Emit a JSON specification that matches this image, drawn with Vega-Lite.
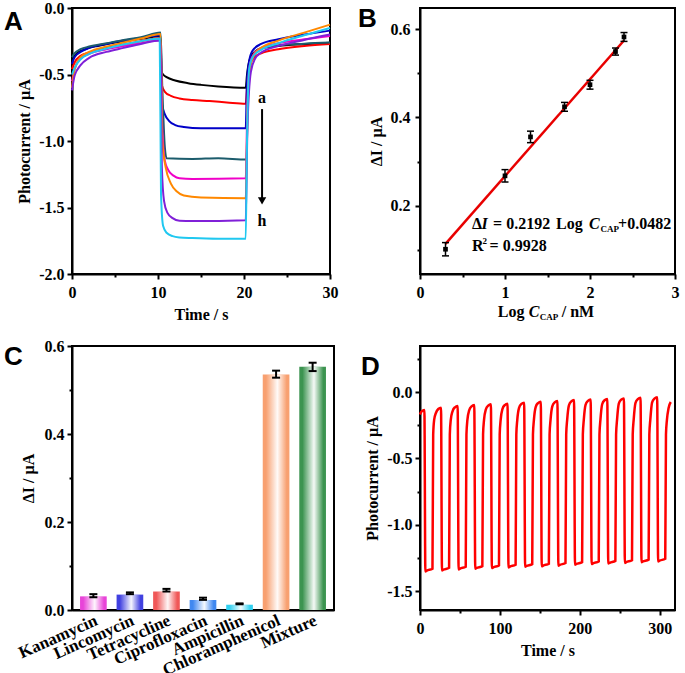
{
"$schema":"https://vega.github.io/schema/vega-lite/v6.json",
"background":"white",
"padding":{"left":3,"top":-1,"right":5,"bottom":0},
"columns":2,
"bounds":"flush",
"align":"all",
"spacing":{"row":72,"column":86},
"resolve":{"scale":{"color":"independent"}},
"config":{
 "view":{"stroke":"black","strokeWidth":2},
 "axis":{"domainColor":"black","domainWidth":2,"tickColor":"black","tickWidth":2,"grid":false,"labelFont":"Liberation Serif","labelFontWeight":"bold","labelFontSize":16,"labelColor":"black","titleFont":"Liberation Serif","titleFontWeight":"bold","titleFontSize":16,"titleColor":"black","labelFlush":false,"labelOverlap":false,"labelBound":false},
 "title":{"font":"Liberation Sans","fontSize":26,"fontWeight":"bold","color":"black","anchor":"start","frame":"group","offset":0,"baseline":"alphabetic"}
},
"concat":[
{
"width":258,"height":266,
"title":{"text":"A","dx":-68,"dy":39},
"layer":[
 {"data":{"values":[
{"s":"a","t":0,"v":-0.40},{"s":"a","t":0.2,"v":-0.37},{"s":"a","t":0.5,"v":-0.345},{"s":"a","t":1,"v":-0.325},{"s":"a","t":2,"v":-0.30},{"s":"a","t":3,"v":-0.285},{"s":"a","t":5,"v":-0.26},{"s":"a","t":7,"v":-0.24},{"s":"a","t":9,"v":-0.222},{"s":"a","t":10.25,"v":-0.21},{"s":"a","t":10.35,"v":-0.47},{"s":"a","t":10.6,"v":-0.5},{"s":"a","t":11,"v":-0.52},{"s":"a","t":12,"v":-0.545},{"s":"a","t":13.5,"v":-0.565},{"s":"a","t":15,"v":-0.578},{"s":"a","t":17,"v":-0.59},{"s":"a","t":20.2,"v":-0.60},{"s":"a","t":20.35,"v":-0.50},{"s":"a","t":20.6,"v":-0.40},{"s":"a","t":21,"v":-0.345},{"s":"a","t":22,"v":-0.305},{"s":"a","t":24,"v":-0.285},{"s":"a","t":27,"v":-0.272},{"s":"a","t":30,"v":-0.262},
{"s":"b","t":0,"v":-0.46},{"s":"b","t":0.3,"v":-0.41},{"s":"b","t":1,"v":-0.36},{"s":"b","t":2,"v":-0.335},{"s":"b","t":4,"v":-0.30},{"s":"b","t":6,"v":-0.275},{"s":"b","t":8,"v":-0.25},{"s":"b","t":10.3,"v":-0.225},{"s":"b","t":10.45,"v":-0.58},{"s":"b","t":10.8,"v":-0.63},{"s":"b","t":11.5,"v":-0.66},{"s":"b","t":12.5,"v":-0.68},{"s":"b","t":14,"v":-0.692},{"s":"b","t":16,"v":-0.70},{"s":"b","t":18,"v":-0.71},{"s":"b","t":20.2,"v":-0.72},{"s":"b","t":20.4,"v":-0.55},{"s":"b","t":20.7,"v":-0.43},{"s":"b","t":21.2,"v":-0.37},{"s":"b","t":22,"v":-0.34},{"s":"b","t":24,"v":-0.31},{"s":"b","t":27,"v":-0.285},{"s":"b","t":30,"v":-0.27},
{"s":"c","t":0,"v":-0.42},{"s":"c","t":0.3,"v":-0.37},{"s":"c","t":1,"v":-0.33},{"s":"c","t":2,"v":-0.30},{"s":"c","t":4,"v":-0.27},{"s":"c","t":6,"v":-0.245},{"s":"c","t":8,"v":-0.225},{"s":"c","t":10.3,"v":-0.205},{"s":"c","t":10.45,"v":-0.72},{"s":"c","t":10.8,"v":-0.80},{"s":"c","t":11.3,"v":-0.85},{"s":"c","t":12,"v":-0.88},{"s":"c","t":13,"v":-0.895},{"s":"c","t":15,"v":-0.905},{"s":"c","t":20.2,"v":-0.905},{"s":"c","t":20.35,"v":-0.55},{"s":"c","t":20.6,"v":-0.40},{"s":"c","t":21,"v":-0.32},{"s":"c","t":22,"v":-0.27},{"s":"c","t":24,"v":-0.235},{"s":"c","t":27,"v":-0.20},{"s":"c","t":30,"v":-0.17},
{"s":"d","t":0,"v":-0.37},{"s":"d","t":0.3,"v":-0.34},{"s":"d","t":1,"v":-0.31},{"s":"d","t":2,"v":-0.29},{"s":"d","t":4,"v":-0.265},{"s":"d","t":6,"v":-0.24},{"s":"d","t":8,"v":-0.22},{"s":"d","t":10.3,"v":-0.185},{"s":"d","t":10.5,"v":-0.60},{"s":"d","t":10.8,"v":-1.05},{"s":"d","t":11,"v":-1.13},{"s":"d","t":14,"v":-1.135},{"s":"d","t":17,"v":-1.13},{"s":"d","t":20.3,"v":-1.14},{"s":"d","t":20.45,"v":-0.6},{"s":"d","t":20.8,"v":-0.40},{"s":"d","t":21.3,"v":-0.33},{"s":"d","t":22,"v":-0.30},{"s":"d","t":24,"v":-0.28},{"s":"d","t":27,"v":-0.268},{"s":"d","t":30,"v":-0.26},
{"s":"e","t":0,"v":-0.55},{"s":"e","t":0.3,"v":-0.46},{"s":"e","t":1,"v":-0.38},{"s":"e","t":2,"v":-0.345},{"s":"e","t":4,"v":-0.31},{"s":"e","t":6,"v":-0.285},{"s":"e","t":8,"v":-0.265},{"s":"e","t":10.3,"v":-0.24},{"s":"e","t":10.5,"v":-0.9},{"s":"e","t":10.8,"v":-1.15},{"s":"e","t":11.2,"v":-1.22},{"s":"e","t":11.8,"v":-1.26},{"s":"e","t":12.5,"v":-1.28},{"s":"e","t":14,"v":-1.285},{"s":"e","t":20.2,"v":-1.28},{"s":"e","t":20.4,"v":-0.7},{"s":"e","t":20.7,"v":-0.42},{"s":"e","t":21.2,"v":-0.34},{"s":"e","t":22,"v":-0.30},{"s":"e","t":24,"v":-0.265},{"s":"e","t":27,"v":-0.235},{"s":"e","t":30,"v":-0.21},
{"s":"f","t":0,"v":-0.60},{"s":"f","t":0.3,"v":-0.46},{"s":"f","t":1,"v":-0.37},{"s":"f","t":2,"v":-0.33},{"s":"f","t":4,"v":-0.29},{"s":"f","t":6,"v":-0.26},{"s":"f","t":8,"v":-0.23},{"s":"f","t":10.3,"v":-0.195},{"s":"f","t":10.5,"v":-1.0},{"s":"f","t":10.9,"v":-1.2},{"s":"f","t":11.5,"v":-1.32},{"s":"f","t":12.2,"v":-1.38},{"s":"f","t":13,"v":-1.41},{"s":"f","t":15,"v":-1.425},{"s":"f","t":20.2,"v":-1.43},{"s":"f","t":20.4,"v":-0.8},{"s":"f","t":20.7,"v":-0.45},{"s":"f","t":21.2,"v":-0.35},{"s":"f","t":22,"v":-0.30},{"s":"f","t":24,"v":-0.245},{"s":"f","t":27,"v":-0.185},{"s":"f","t":30,"v":-0.125},
{"s":"g","t":0,"v":-0.62},{"s":"g","t":0.3,"v":-0.51},{"s":"g","t":1,"v":-0.43},{"s":"g","t":2,"v":-0.375},{"s":"g","t":4,"v":-0.33},{"s":"g","t":6,"v":-0.30},{"s":"g","t":8,"v":-0.27},{"s":"g","t":10.3,"v":-0.245},{"s":"g","t":10.45,"v":-1.2},{"s":"g","t":10.7,"v":-1.45},{"s":"g","t":11.1,"v":-1.54},{"s":"g","t":11.7,"v":-1.58},{"s":"g","t":12.5,"v":-1.60},{"s":"g","t":14,"v":-1.602},{"s":"g","t":20.2,"v":-1.595},{"s":"g","t":20.4,"v":-0.9},{"s":"g","t":20.8,"v":-0.48},{"s":"g","t":21.3,"v":-0.38},{"s":"g","t":22,"v":-0.335},{"s":"g","t":24,"v":-0.285},{"s":"g","t":27,"v":-0.24},{"s":"g","t":30,"v":-0.20},
{"s":"h","t":0,"v":-0.50},{"s":"h","t":0.3,"v":-0.45},{"s":"h","t":1,"v":-0.385},{"s":"h","t":2,"v":-0.345},{"s":"h","t":4,"v":-0.305},{"s":"h","t":6,"v":-0.275},{"s":"h","t":8,"v":-0.25},{"s":"h","t":10.2,"v":-0.23},{"s":"h","t":10.35,"v":-1.4},{"s":"h","t":10.6,"v":-1.64},{"s":"h","t":11,"v":-1.69},{"s":"h","t":11.7,"v":-1.715},{"s":"h","t":12.5,"v":-1.725},{"s":"h","t":14,"v":-1.73},{"s":"h","t":17,"v":-1.735},{"s":"h","t":20.2,"v":-1.735},{"s":"h","t":20.35,"v":-1.0},{"s":"h","t":20.6,"v":-0.46},{"s":"h","t":21,"v":-0.37},{"s":"h","t":22,"v":-0.315},{"s":"h","t":24,"v":-0.265},{"s":"h","t":27,"v":-0.205},{"s":"h","t":30,"v":-0.15}
 ]},
  "mark":{"type":"line","interpolate":"monotone","strokeWidth":2},
  "encoding":{
   "x":{"field":"t","type":"quantitative","scale":{"domain":[0,30],"nice":false,"zero":false},"axis":{"values":[0,5,10,15,20,25,30],"labelExpr":"datum.value % 10 == 0 ? datum.label : ''","tickSize":{"condition":{"test":"datum.value % 10 != 0","value":3},"value":5},"title":"Time / s","labelPadding":5,"titlePadding":6}},
   "y":{"field":"v","type":"quantitative","scale":{"domain":[-2,0],"nice":false,"zero":false},"axis":{"values":[-2,-1.75,-1.5,-1.25,-1,-0.75,-0.5,-0.25,0],"labelExpr":"abs(round(datum.value*4)) % 2 == 0 ? replace(format(datum.value, '.1f'), '−', '-') : ''","tickSize":{"condition":{"test":"abs(round(datum.value*4)) % 2 == 1","value":3},"value":5},"title":"Photocurrent / µA","labelPadding":3,"titlePadding":6}},
   "color":{"field":"s","type":"nominal","scale":{"domain":["a","b","c","d","e","f","g","h"],"range":["#000000","#ff0000","#0000c8","#1c5c6c","#f000c8","#ff8800","#8020d8","#20c8f0"]},"legend":null}
  }},
 {"data":{"values":[{}]},"mark":{"type":"rule","color":"black","strokeWidth":2},"encoding":{"x":{"datum":22.1},"y":{"datum":-0.76},"y2":{"datum":-1.43}}},
 {"data":{"values":[{}]},"mark":{"type":"point","shape":"triangle-down","filled":true,"color":"black","opacity":1,"size":70},"encoding":{"x":{"datum":22.1},"y":{"datum":-1.45}}},
 {"data":{"values":[{"lab":"a"}]},"mark":{"type":"text","font":"Liberation Serif","fontWeight":"bold","fontSize":16,"color":"black"},"encoding":{"x":{"datum":22.1},"y":{"datum":-0.68},"text":{"field":"lab"}}},
 {"data":{"values":[{"lab":"h"}]},"mark":{"type":"text","font":"Liberation Serif","fontWeight":"bold","fontSize":16,"color":"black"},"encoding":{"x":{"datum":22.1},"y":{"datum":-1.6},"text":{"field":"lab"}}}
]
},
{
"width":255,"height":266,
"title":{"text":"B","dx":-62,"dy":28},
"layer":[
 {"data":{"values":[{"x":0.3,"y":0.114},{"x":2.4,"y":0.574}]},
  "mark":{"type":"line","color":"#e80000","strokeWidth":2.5},
  "encoding":{
   "x":{"field":"x","type":"quantitative","scale":{"domain":[0,3],"nice":false,"zero":false},"axis":{"values":[0,0.5,1,1.5,2,2.5,3],"labelExpr":"datum.value % 1 == 0 ? format(datum.value, 'd') : ''","tickSize":{"condition":{"test":"datum.value % 1 != 0","value":3},"value":5},"title":null,"labelPadding":5}},
   "y":{"field":"y","type":"quantitative","scale":{"domain":[0.046,0.6475],"nice":false,"zero":false},"axis":{"values":[0.1,0.2,0.3,0.4,0.5,0.6],"labelExpr":"round(datum.value*10) % 2 == 0 ? format(datum.value, '.1f') : ''","tickSize":{"condition":{"test":"round(datum.value*10) % 2 == 1","value":3},"value":5},"title":"ΔI / µA","labelPadding":5,"titlePadding":6}}
  }},
 {"data":{"name":"pts","values":[{"x":0.3,"y":0.102,"lo":0.087,"hi":0.117},{"x":1,"y":0.268,"lo":0.254,"hi":0.282},{"x":1.3,"y":0.356,"lo":0.343,"hi":0.369},{"x":1.7,"y":0.424,"lo":0.414,"hi":0.434},{"x":2,"y":0.474,"lo":0.464,"hi":0.484},{"x":2.3,"y":0.549,"lo":0.541,"hi":0.557},{"x":2.4,"y":0.582,"lo":0.572,"hi":0.592}]},
  "layer":[
   {"mark":{"type":"rule","color":"black","strokeWidth":1.5},"encoding":{"x":{"field":"x","type":"quantitative"},"y":{"field":"lo","type":"quantitative"},"y2":{"field":"hi"}}},
   {"mark":{"type":"tick","orient":"horizontal","size":7,"thickness":1.5,"color":"black","opacity":1},"encoding":{"x":{"field":"x","type":"quantitative"},"y":{"field":"lo","type":"quantitative"}}},
   {"mark":{"type":"tick","orient":"horizontal","size":7,"thickness":1.5,"color":"black","opacity":1},"encoding":{"x":{"field":"x","type":"quantitative"},"y":{"field":"hi","type":"quantitative"}}},
   {"mark":{"type":"point","shape":"square","filled":true,"color":"black","opacity":1,"size":22},"encoding":{"x":{"field":"x","type":"quantitative"},"y":{"field":"y","type":"quantitative"}}}
  ]},
 {"data":{"values":[{"s":"Δ"}]},"mark":{"type":"text","align":"left","baseline":"alphabetic","font":"Liberation Serif","fontWeight":"bold","fontSize":16,"color":"black","dx":0},"encoding":{"x":{"datum":0.612},"y":{"datum":0.1477},"text":{"field":"s"}}},
 {"data":{"values":[{"s":"I"}]},"mark":{"type":"text","align":"left","baseline":"alphabetic","font":"Liberation Serif","fontWeight":"bold","fontStyle":"italic","fontSize":16,"color":"black","dx":9.5},"encoding":{"x":{"datum":0.612},"y":{"datum":0.1477},"text":{"field":"s"}}},
 {"data":{"values":[{"s":"= 0.2192"}]},"mark":{"type":"text","align":"left","baseline":"alphabetic","font":"Liberation Serif","fontWeight":"bold","fontSize":16,"color":"black","dx":21},"encoding":{"x":{"datum":0.612},"y":{"datum":0.1477},"text":{"field":"s"}}},
 {"data":{"values":[{"s":"Log"}]},"mark":{"type":"text","align":"left","baseline":"alphabetic","font":"Liberation Serif","fontWeight":"bold","fontSize":16,"color":"black","dx":84},"encoding":{"x":{"datum":0.612},"y":{"datum":0.1477},"text":{"field":"s"}}},
 {"data":{"values":[{"s":"C"}]},"mark":{"type":"text","align":"left","baseline":"alphabetic","font":"Liberation Serif","fontWeight":"bold","fontStyle":"italic","fontSize":16,"color":"black","dx":117},"encoding":{"x":{"datum":0.612},"y":{"datum":0.1477},"text":{"field":"s"}}},
 {"data":{"values":[{"s":"CAP"}]},"mark":{"type":"text","align":"left","baseline":"alphabetic","font":"Liberation Serif","fontWeight":"bold","fontSize":9,"color":"black","dx":128.5,"dy":3},"encoding":{"x":{"datum":0.612},"y":{"datum":0.1477},"text":{"field":"s"}}},
 {"data":{"values":[{"s":"+0.0482"}]},"mark":{"type":"text","align":"left","baseline":"alphabetic","font":"Liberation Serif","fontWeight":"bold","fontSize":16,"color":"black","dx":146},"encoding":{"x":{"datum":0.612},"y":{"datum":0.1477},"text":{"field":"s"}}},
 {"data":{"values":[{"s":"R"}]},"mark":{"type":"text","align":"left","baseline":"alphabetic","font":"Liberation Serif","fontWeight":"bold","fontSize":16,"color":"black","dx":0},"encoding":{"x":{"datum":0.612},"y":{"datum":0.098},"text":{"field":"s"}}},
 {"data":{"values":[{"s":"2"}]},"mark":{"type":"text","align":"left","baseline":"alphabetic","font":"Liberation Serif","fontWeight":"bold","fontSize":9,"color":"black","dx":10.5,"dy":-7},"encoding":{"x":{"datum":0.612},"y":{"datum":0.098},"text":{"field":"s"}}},
 {"data":{"values":[{"s":"= 0.9928"}]},"mark":{"type":"text","align":"left","baseline":"alphabetic","font":"Liberation Serif","fontWeight":"bold","fontSize":16,"color":"black","dx":17.5},"encoding":{"x":{"datum":0.612},"y":{"datum":0.098},"text":{"field":"s"}}},
 {"data":{"values":[{"s":"Log"}]},"mark":{"type":"text","align":"left","baseline":"alphabetic","font":"Liberation Serif","fontWeight":"bold","fontSize":16,"color":"black","dx":0},"encoding":{"x":{"datum":0.915},"y":{"datum":-0.051},"text":{"field":"s"}}},
 {"data":{"values":[{"s":"C"}]},"mark":{"type":"text","align":"left","baseline":"alphabetic","font":"Liberation Serif","fontWeight":"bold","fontStyle":"italic","fontSize":16,"color":"black","dx":31},"encoding":{"x":{"datum":0.915},"y":{"datum":-0.051},"text":{"field":"s"}}},
 {"data":{"values":[{"s":"CAP"}]},"mark":{"type":"text","align":"left","baseline":"alphabetic","font":"Liberation Serif","fontWeight":"bold","fontSize":9,"color":"black","dx":42,"dy":3},"encoding":{"x":{"datum":0.915},"y":{"datum":-0.051},"text":{"field":"s"}}},
 {"data":{"values":[{"s":"/ nM"}]},"mark":{"type":"text","align":"left","baseline":"alphabetic","font":"Liberation Serif","fontWeight":"bold","fontSize":16,"color":"black","dx":64},"encoding":{"x":{"datum":0.915},"y":{"datum":-0.051},"text":{"field":"s"}}}
]
},
{
"width":262,"height":264,
"title":{"text":"C","dx":-68,"dy":36},
"data":{"values":[
 {"name":"Kanamycin","v":0.031,"lo":0.029,"hi":0.036},
 {"name":"Lincomycin","v":0.035,"lo":0.036,"hi":0.040},
 {"name":"Tetracycline","v":0.042,"lo":0.042,"hi":0.048},
 {"name":"Ciprofloxacin","v":0.023,"lo":0.023,"hi":0.028},
 {"name":"Ampicillin","v":0.012,"lo":0.013,"hi":0.015},
 {"name":"Chloramphenicol","v":0.535,"lo":0.528,"hi":0.544},
 {"name":"Mixture","v":0.553,"lo":0.543,"hi":0.562}
]},
"layer":[
 {"mark":{"type":"bar"},
  "encoding":{
   "x":{"field":"name","type":"nominal","scale":{"type":"band","domain":["Kanamycin","Lincomycin","Tetracycline","Ciprofloxacin","Ampicillin","Chloramphenicol","Mixture"],"paddingInner":0.27,"paddingOuter":0.22},"axis":{"ticks":false,"labelAngle":-24,"labelAlign":"right","labelBaseline":"top","labelPadding":2,"labelFontSize":17,"title":null}},
   "y":{"field":"v","type":"quantitative","scale":{"domain":[0,0.6],"nice":false},"axis":{"values":[0,0.1,0.2,0.3,0.4,0.5,0.6],"labelExpr":"round(datum.value*10) % 2 == 0 ? format(datum.value, '.1f') : ''","tickSize":{"condition":{"test":"round(datum.value*10) % 2 == 1","value":3},"value":5},"title":"ΔI / µA","labelPadding":3,"titlePadding":8}},
   "color":{"field":"name","type":"nominal","scale":{"domain":["Kanamycin","Lincomycin","Tetracycline","Ciprofloxacin","Ampicillin","Chloramphenicol","Mixture"],"range":["#e844d8","#4040e0","#f05858","#4088f0","#30d0f0","#f8a070","#3c9450"]},"legend":null}
  }},
 {"mark":{"type":"bar","color":{"gradient":"linear","x1":0,"x2":1,"y1":0,"y2":0,"stops":[{"offset":0,"color":"rgba(255,255,255,0)"},{"offset":0.12,"color":"rgba(255,255,255,0)"},{"offset":0.55,"color":"rgba(255,255,255,0.95)"},{"offset":0.9,"color":"rgba(255,255,255,0)"},{"offset":1,"color":"rgba(255,255,255,0)"}]}},
  "encoding":{"x":{"field":"name","type":"nominal"},"y":{"field":"v","type":"quantitative"}}},
 {"mark":{"type":"rule","color":"black","strokeWidth":2},"encoding":{"x":{"field":"name","type":"nominal"},"y":{"field":"lo","type":"quantitative"},"y2":{"field":"hi"}}},
 {"mark":{"type":"tick","orient":"horizontal","size":8,"thickness":2,"color":"black","opacity":1},"encoding":{"x":{"field":"name","type":"nominal"},"y":{"field":"lo","type":"quantitative"}}},
 {"mark":{"type":"tick","orient":"horizontal","size":8,"thickness":2,"color":"black","opacity":1},"encoding":{"x":{"field":"name","type":"nominal"},"y":{"field":"hi","type":"quantitative"}}}
]
},
{
"width":255,"height":264,
"title":{"text":"D","dx":-59,"dy":38},
"data":{"values":[
{"t":0,"v":-0.17},{"t":1.5,"v":-0.15},{"t":3.5,"v":-0.14},
{"t":5.5,"v":-0.135},{"t":6.7,"v":-1.352},{"t":8.5,"v":-1.346},{"t":15.6,"v":-1.332},{"t":16.5,"v":-0.32},{"t":17.7,"v":-0.21},{"t":19.9,"v":-0.158},{"t":22.9,"v":-0.128},
{"t":26.3,"v":-0.118},{"t":27.5,"v":-1.345},{"t":29.3,"v":-1.339},{"t":36.4,"v":-1.325},{"t":37.3,"v":-0.32},{"t":38.5,"v":-0.21},{"t":40.7,"v":-0.145},{"t":43.7,"v":-0.115},
{"t":47.1,"v":-0.105},{"t":48.3,"v":-1.337},{"t":50.1,"v":-1.331},{"t":57.2,"v":-1.317},{"t":58.1,"v":-0.32},{"t":59.3,"v":-0.21},{"t":61.5,"v":-0.138},{"t":64.5,"v":-0.108},
{"t":67.9,"v":-0.098},{"t":69.1,"v":-1.332},{"t":70.9,"v":-1.326},{"t":78.0,"v":-1.312},{"t":78.9,"v":-0.32},{"t":80.1,"v":-0.21},{"t":82.3,"v":-0.133},{"t":85.3,"v":-0.103},
{"t":88.7,"v":-0.093},{"t":89.9,"v":-1.327},{"t":91.7,"v":-1.321},{"t":98.8,"v":-1.307},{"t":99.7,"v":-0.32},{"t":100.9,"v":-0.21},{"t":103.1,"v":-0.128},{"t":106.1,"v":-0.098},
{"t":109.5,"v":-0.088},{"t":110.7,"v":-1.322},{"t":112.5,"v":-1.316},{"t":119.6,"v":-1.302},{"t":120.5,"v":-0.32},{"t":121.7,"v":-0.21},{"t":123.9,"v":-0.12},{"t":126.9,"v":-0.09},
{"t":130.3,"v":-0.08},{"t":131.5,"v":-1.317},{"t":133.3,"v":-1.311},{"t":140.4,"v":-1.297},{"t":141.3,"v":-0.32},{"t":142.5,"v":-0.21},{"t":144.7,"v":-0.113},{"t":147.7,"v":-0.083},
{"t":151.1,"v":-0.073},{"t":152.3,"v":-1.314},{"t":154.1,"v":-1.308},{"t":161.2,"v":-1.294},{"t":162.1,"v":-0.32},{"t":163.3,"v":-0.21},{"t":165.5,"v":-0.108},{"t":168.5,"v":-0.078},
{"t":171.9,"v":-0.068},{"t":173.1,"v":-1.309},{"t":174.9,"v":-1.303},{"t":182.0,"v":-1.289},{"t":182.9,"v":-0.32},{"t":184.1,"v":-0.21},{"t":186.3,"v":-0.10},{"t":189.3,"v":-0.07},
{"t":192.7,"v":-0.06},{"t":193.9,"v":-1.302},{"t":195.7,"v":-1.296},{"t":202.8,"v":-1.282},{"t":203.7,"v":-0.32},{"t":204.9,"v":-0.21},{"t":207.1,"v":-0.097},{"t":210.1,"v":-0.067},
{"t":213.5,"v":-0.057},{"t":214.7,"v":-1.297},{"t":216.5,"v":-1.291},{"t":223.6,"v":-1.277},{"t":224.5,"v":-0.32},{"t":225.7,"v":-0.21},{"t":227.9,"v":-0.092},{"t":230.9,"v":-0.062},
{"t":234.3,"v":-0.052},{"t":235.5,"v":-1.293},{"t":237.3,"v":-1.287},{"t":244.4,"v":-1.273},{"t":245.3,"v":-0.32},{"t":246.5,"v":-0.21},{"t":248.7,"v":-0.088},{"t":251.7,"v":-0.058},
{"t":255.1,"v":-0.048},{"t":256.3,"v":-1.288},{"t":258.1,"v":-1.282},{"t":265.2,"v":-1.268},{"t":266.1,"v":-0.32},{"t":267.3,"v":-0.21},{"t":269.5,"v":-0.084},{"t":272.5,"v":-0.054},
{"t":275.9,"v":-0.044},{"t":277.1,"v":-1.283},{"t":278.9,"v":-1.277},{"t":286.0,"v":-1.263},{"t":286.9,"v":-0.32},{"t":288.1,"v":-0.21},{"t":290.3,"v":-0.08},{"t":293.3,"v":-0.05},
{"t":296.7,"v":-0.04},{"t":297.9,"v":-1.277},{"t":299.7,"v":-1.271},{"t":306.8,"v":-1.257},{"t":307.7,"v":-0.32},{"t":308.9,"v":-0.21},{"t":311.0,"v":-0.12},{"t":313.7,"v":-0.075}
]},
"mark":{"type":"line","color":"#ff0000","strokeWidth":2.5,"interpolate":"monotone"},
"encoding":{
 "x":{"field":"t","type":"quantitative","scale":{"domain":[0,319],"nice":false,"zero":false},"axis":{"values":[0,50,100,150,200,250,300],"labelExpr":"datum.value % 100 == 0 ? datum.label : ''","tickSize":{"condition":{"test":"datum.value % 100 != 0","value":3},"value":5},"title":"Time / s","labelPadding":5,"titlePadding":6}},
 "y":{"field":"v","type":"quantitative","scale":{"domain":[-1.643,0.347],"nice":false,"zero":false},"axis":{"values":[-1.5,-1.25,-1,-0.75,-0.5,-0.25,0,0.25],"labelExpr":"abs(round(datum.value*4)) % 2 == 0 ? replace(format(datum.value, '.1f'), '−', '-') : ''","tickSize":{"condition":{"test":"abs(round(datum.value*4)) % 2 == 1","value":3},"value":5},"title":"Photocurrent / µA","labelPadding":3,"titlePadding":6}}
}
}
]
}
